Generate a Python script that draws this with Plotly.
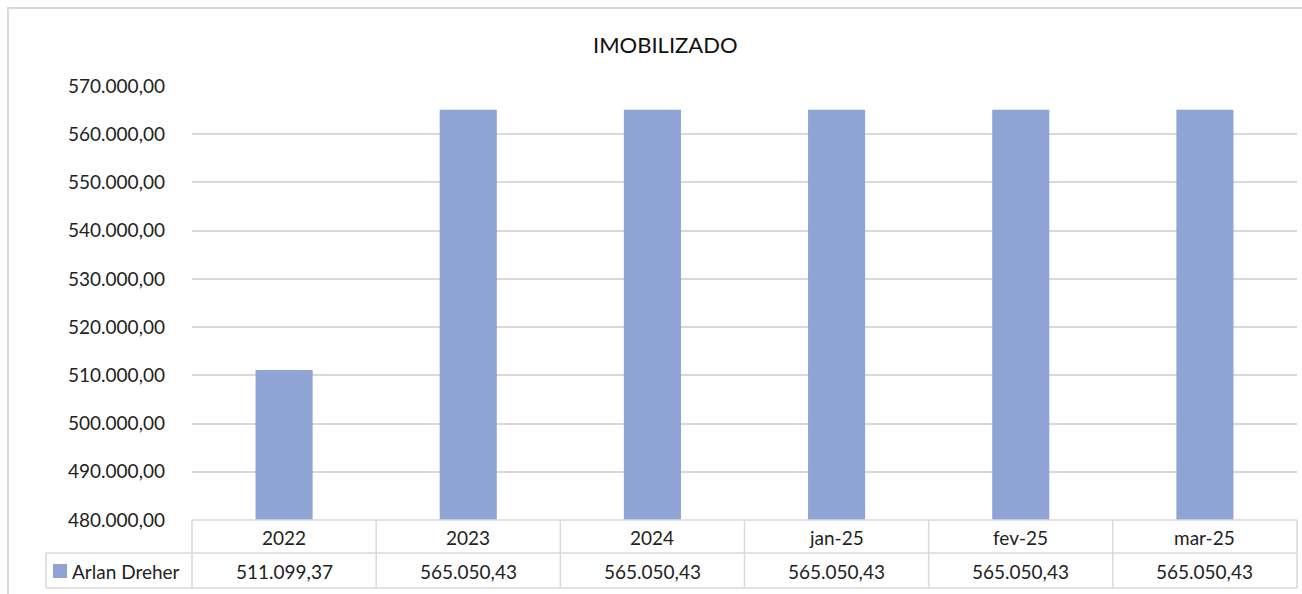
import plotly.graph_objects as go

categories = ["2022", "2023", "2024", "jan-25", "fev-25", "mar-25"]
values = [511099.37, 565050.43, 565050.43, 565050.43, 565050.43, 565050.43]
series_name = "Arlan Dreher"
title_text = "IMOBILIZADO"
y_min, y_max, y_step = 480000, 570000, 10000

W, H = 1302, 594
L, R, T, B = 192, 1297, 86, 520  # plot area in px
BAR_COLOR = "#8FA4D4"
GRID = "#D9D9D9"
TXT = "#222222"
FONT = "Lato, Calibri, Carlito, sans-serif"
FS = 19


def fmt_br(v):
    s = f"{v:,.2f}"
    return s.replace(",", "X").replace(".", ",").replace("X", ".")


def px(xp):
    return (xp - L) / (R - L)


def py(yp):
    return (B - yp) / (B - T)


fig = go.Figure()
fig.add_trace(go.Bar(x=categories, y=values, name=series_name,
                     marker=dict(color=BAR_COLOR, line=dict(width=0)),
                     showlegend=False))

ticks = list(range(y_min, y_max + 1, y_step))

shapes = []
# outer chart border
shapes.append(dict(type="rect", xref="paper", yref="paper",
                   x0=px(8), x1=px(1320), y0=py(620), y1=py(8),
                   line=dict(color=GRID, width=2), layer="below"))
# table lines
n = len(categories)
colw = (R - L) / n
row1, row2 = 553, 588
line_style = dict(color=GRID, width=1.5)
for yp, x0 in [(B, L), (row1, 46), (row2, 46)]:
    shapes.append(dict(type="line", xref="paper", yref="paper",
                       x0=px(x0), x1=px(R), y0=py(yp), y1=py(yp), line=line_style))
for i in range(n + 1):
    xp = L + i * colw
    shapes.append(dict(type="line", xref="paper", yref="paper",
                       x0=px(xp), x1=px(xp), y0=py(B), y1=py(row2), line=line_style))
shapes.append(dict(type="line", xref="paper", yref="paper",
                   x0=px(46), x1=px(46), y0=py(row1), y1=py(row2), line=line_style))
# legend key
shapes.append(dict(type="rect", xref="paper", yref="paper",
                   x0=px(53), x1=px(67), y0=py(578), y1=py(564),
                   fillcolor=BAR_COLOR, line=dict(width=0)))

annotations = []
for i, (c, v) in enumerate(zip(categories, values)):
    xc = L + (i + 0.5) * colw
    annotations.append(dict(xref="paper", yref="paper", x=px(xc), y=py(537),
                            text=c, showarrow=False, xanchor="center", yanchor="middle",
                            font=dict(size=FS, color=TXT, family=FONT)))
    annotations.append(dict(xref="paper", yref="paper", x=px(xc), y=py(571),
                            text=fmt_br(v), showarrow=False, xanchor="center", yanchor="middle",
                            font=dict(size=FS, color=TXT, family=FONT)))
annotations.append(dict(xref="paper", yref="paper", x=px(70), y=py(571),
                        text=series_name, showarrow=False, xanchor="left", yanchor="middle",
                        font=dict(size=FS, color=TXT, family=FONT)))
annotations.append(dict(xref="paper", yref="paper", x=px(665), y=py(44),
                        text=title_text, showarrow=False, xanchor="center", yanchor="middle",
                        font=dict(size=22, color="#111111", family=FONT)))

fig.update_layout(
    width=W, height=H,
    margin=dict(l=L, r=W - R, t=T, b=H - B, pad=0),
    paper_bgcolor="white", plot_bgcolor="white",
    bargap=0.69,
    separators=",.",
    shapes=shapes, annotations=annotations,
    font=dict(family=FONT, color=TXT, size=FS),
    xaxis=dict(showticklabels=False, showgrid=False, zeroline=False,
               showline=False, ticks=""),
    yaxis=dict(range=[y_min, y_max], tickvals=ticks,
               ticktext=[fmt_br(t) for t in ticks],
               showgrid=True, gridcolor=GRID, gridwidth=1.5,
               zeroline=False, showline=False, ticks="",
               ticklabelstandoff=26,
               tickfont=dict(size=FS, color=TXT, family=FONT)),
)

fig.write_html("out.html",
               config={"displayModeBar": False},
               post_script="document.body.style.margin='0';"
                           "document.body.style.overflow='hidden';")
